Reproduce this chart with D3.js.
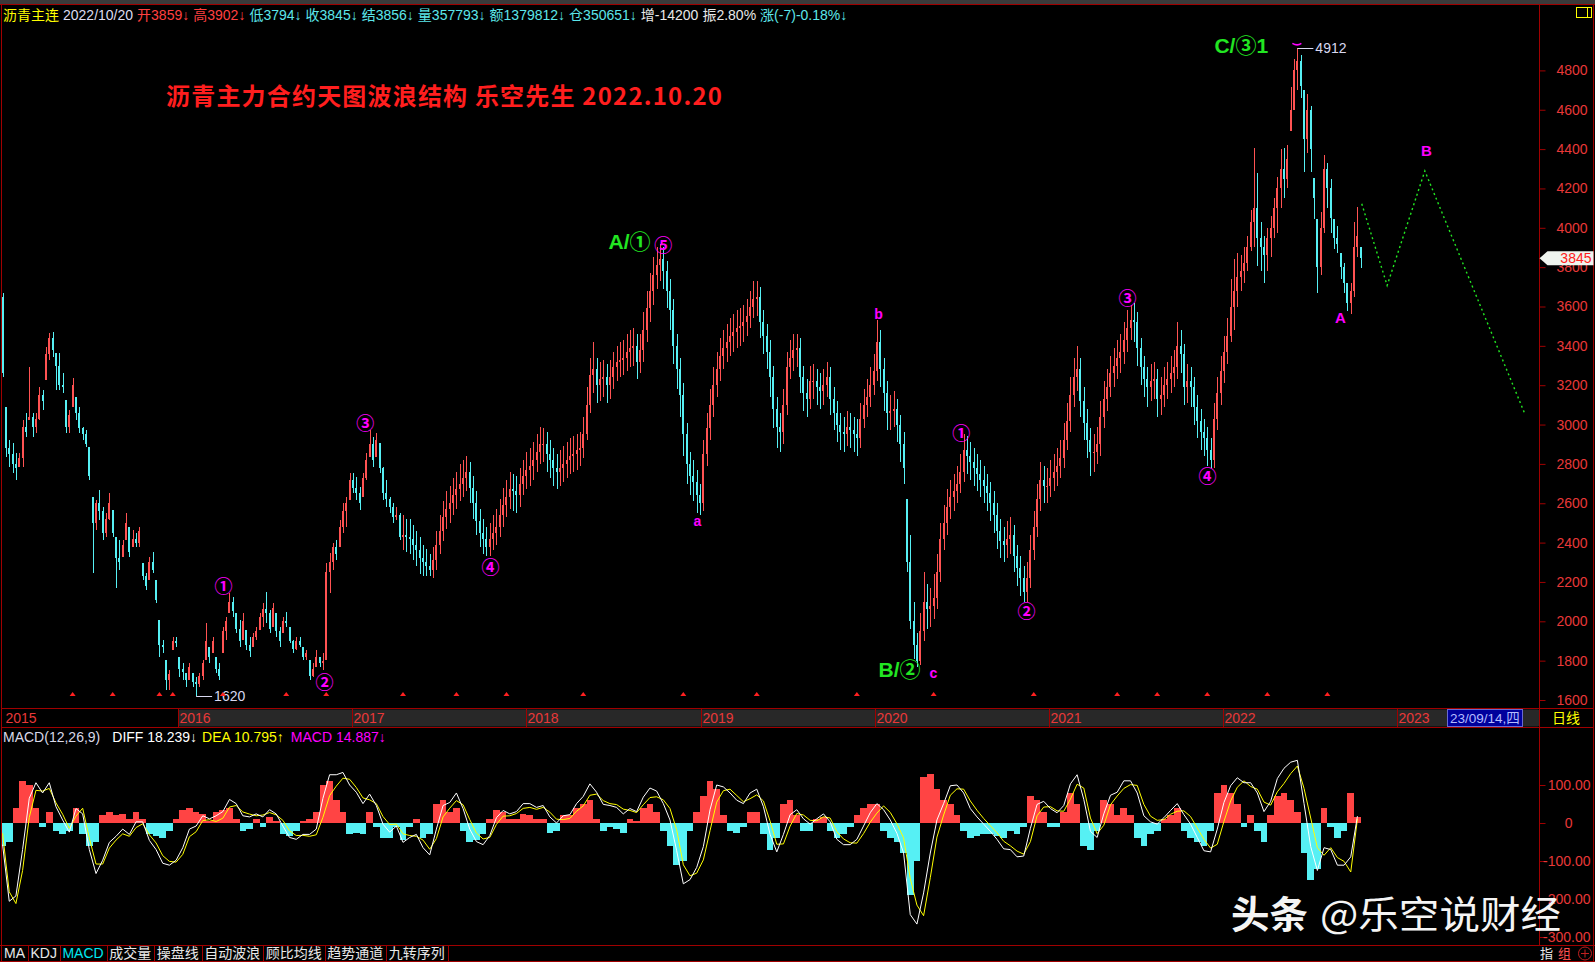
<!DOCTYPE html>
<html><head><meta charset="utf-8">
<script src="https://cdn.jsdelivr.net/npm/d3@7/dist/d3.min.js"></script>
<style>
html,body{margin:0;padding:0;background:#000;overflow:hidden}
svg{display:block}
text{font-family:"Liberation Sans",Arial,"Noto Sans CJK SC",sans-serif}
</style></head><body>
<svg id="chart" width="1595" height="962"></svg>
<script>
// ================= DATA (weekly samples) =================
const weekHigh = [
3667,3091,2922,2905,2854,2854,3023,3057,3294,3057,
3057,3193,3176,3396,3464,3472,3362,3362,3261,3125,
3074,3235,3142,3091,2990,2973,2888,2634,2617,2668,
2583,2549,2651,2566,2430,2413,2413,2549,2481,2464,
2447,2481,2295,2244,2329,2354,2210,2007,1905,1804,
1753,1922,1922,1821,1787,1736,1787,1736,1719,1736,
1804,1990,1871,1922,1821,1787,1973,2024,2142,2125,
2041,2007,2041,1956,1922,1939,1973,2041,2092,2151,
2058,2092,2041,1973,2024,2049,1973,1905,1922,1922,
1871,1855,1804,1787,1855,1821,1838,2295,2346,2397,
2413,2515,2600,2634,2752,2752,2735,2685,2752,2854,
2973,2939,2956,2905,2786,2719,2634,2600,2583,2549,
2540,2520,2520,2490,2460,2430,2390,2370,2340,2380,
2460,2540,2610,2660,2690,2730,2760,2800,2820,2840,
2810,2740,2660,2570,2520,2480,2500,2540,2570,2620,
2680,2720,2760,2750,2740,2780,2820,2860,2880,2910,
2950,2990,2980,2960,2920,2880,2850,2870,2890,2910,
2930,2940,2950,2960,3040,3190,3340,3420,3340,3320,
3330,3310,3330,3370,3400,3420,3430,3460,3480,3490,
3460,3460,3570,3680,3770,3850,3900,3920,3900,3830,
3740,3640,3460,3340,3210,3010,2860,2820,2770,2700,
2920,3060,3180,3290,3370,3440,3480,3510,3540,3560,
3580,3590,3610,3640,3680,3730,3730,3700,3580,3510,
3430,3300,3140,3060,3180,3370,3430,3460,3460,3440,
3300,3230,3300,3310,3280,3260,3280,3320,3290,3190,
3120,3060,3040,3070,3060,3040,3030,3110,3180,3230,
3290,3360,3530,3480,3340,3220,3150,3170,3130,3050,
2960,2620,2440,2100,1940,2040,2250,2190,2170,2240,
2340,2500,2590,2670,2720,2750,2790,2850,2950,2940,
2910,2880,2850,2820,2790,2750,2710,2660,2600,2520,
2480,2510,2530,2490,2390,2330,2280,2300,2440,2560,
2700,2810,2790,2780,2820,2850,2880,2920,3010,3110,
3240,3340,3400,3340,3190,3080,2980,2950,2990,3120,
3220,3280,3350,3390,3430,3460,3520,3580,3610,3620,
3570,3440,3350,3290,3310,3320,3280,3240,3290,3320,
3350,3380,3520,3480,3410,3310,3290,3240,3150,3080,
3030,2990,2930,3110,3240,3350,3450,3540,3740,3840,
3873,3860,3900,3960,4090,4405,4280,4027,3960,4000,
4060,4150,4260,4400,4405,4420,4714,4860,4912,4880,
4700,4680,4620,4251,4045,4080,4370,4330,4250,4045,
4010,3873,3820,3718,3718,4027,4105,3902];
const weekLow = [
3244,2837,2786,2752,2718,2786,2786,2939,3023,2939,
2956,3023,3074,3227,3328,3345,3176,3176,3159,2956,
2956,3091,3023,2956,2922,2888,2718,2244,2464,2515,
2413,2430,2515,2430,2168,2261,2329,2413,2329,2380,
2380,2380,2210,2159,2210,2244,2092,1821,1838,1651,
1651,1855,1871,1719,1702,1668,1702,1668,1620,1668,
1702,1804,1787,1838,1736,1702,1838,1905,2041,2024,
1939,1871,1905,1855,1821,1871,1905,1956,1973,1990,
1939,1973,1922,1871,1939,1973,1888,1838,1855,1871,
1804,1804,1702,1719,1770,1770,1753,1804,2142,2261,
2312,2380,2447,2481,2617,2651,2617,2566,2634,2718,
2837,2786,2837,2752,2617,2583,2549,2498,2515,2413,
2360,2350,2340,2310,2280,2240,2230,2230,2230,2220,
2260,2340,2410,2470,2500,2540,2570,2610,2630,2660,
2600,2520,2440,2380,2340,2330,2330,2360,2390,2430,
2480,2530,2570,2560,2550,2580,2640,2670,2690,2720,
2760,2800,2810,2760,2730,2690,2670,2690,2710,2730,
2750,2760,2770,2790,2830,2920,3060,3160,3110,3120,
3140,3110,3130,3180,3220,3240,3250,3270,3290,3300,
3230,3260,3320,3420,3520,3610,3690,3730,3690,3590,
3480,3310,3180,3040,2840,2700,2640,2610,2550,2540,
2560,2790,2920,3040,3140,3220,3280,3320,3350,3370,
3390,3400,3420,3450,3490,3540,3550,3440,3360,3280,
3140,2980,2880,2860,2900,3050,3230,3270,3290,3160,
3070,3040,3080,3130,3100,3080,3100,3140,3050,2970,
2910,2870,2860,2890,2880,2860,2840,2880,2980,3040,
3090,3150,3220,3190,3070,2970,2970,2990,2910,2810,
2700,2250,1960,1810,1770,1780,1900,1960,1970,2010,
2060,2200,2360,2440,2520,2560,2600,2650,2710,2750,
2720,2690,2660,2630,2600,2560,2510,2450,2370,2320,
2300,2320,2340,2250,2180,2130,2100,2100,2170,2310,
2430,2560,2600,2600,2630,2660,2690,2730,2780,2870,
2960,3090,3170,3040,2920,2830,2740,2760,2800,2840,
2980,3070,3140,3190,3230,3260,3310,3370,3430,3420,
3300,3200,3140,3090,3120,3130,3040,3050,3090,3130,
3160,3190,3230,3260,3100,3110,3090,3000,2930,2870,
2840,2790,2780,2780,2970,3100,3210,3310,3420,3480,
3600,3680,3720,3780,3880,3900,3806,3780,3720,3780,
3850,3950,3976,4100,4150,4200,4490,4600,4700,4662,
4285,4380,4285,4045,3667,3760,3976,4100,3976,3890,
3873,3740,3667,3577,3564,3650,3850,3794];
const weekClose = [
3260,2880,2850,2800,2780,2830,2990,2960,3040,2990,
3030,3150,3120,3360,3440,3380,3300,3200,3190,2990,
3050,3200,3060,2980,2950,2900,2740,2500,2600,2560,
2450,2520,2600,2450,2320,2300,2390,2500,2350,2420,
2400,2460,2230,2180,2300,2260,2110,1880,1870,1700,
1730,1900,1890,1760,1740,1700,1770,1690,1680,1720,
1790,1900,1820,1900,1760,1720,1950,2000,2100,2050,
1960,1900,2000,1880,1850,1920,1950,2020,2060,2040,
1960,2070,1950,1900,2000,1990,1900,1860,1900,1880,
1820,1840,1720,1760,1820,1790,1800,2250,2300,2380,
2340,2480,2560,2600,2720,2680,2650,2600,2730,2820,
2900,2820,2920,2780,2650,2620,2580,2530,2540,2430,
2440,2430,2420,2390,2360,2320,2300,2280,2260,2310,
2390,2460,2530,2570,2600,2640,2670,2700,2730,2760,
2680,2600,2510,2450,2420,2380,2420,2450,2480,2540,
2590,2630,2670,2660,2640,2700,2740,2770,2790,2820,
2860,2900,2900,2850,2820,2780,2760,2780,2800,2820,
2840,2850,2870,2880,2950,3100,3250,3280,3200,3230,
3240,3200,3240,3290,3320,3330,3340,3370,3390,3400,
3320,3380,3480,3590,3680,3760,3810,3840,3780,3680,
3580,3400,3280,3150,2950,2800,2740,2710,2640,2600,
2850,2980,3100,3200,3280,3350,3390,3420,3450,3470,
3490,3500,3520,3550,3600,3640,3650,3520,3450,3370,
3240,3080,2990,2960,3100,3290,3340,3380,3390,3240,
3160,3130,3220,3220,3190,3170,3200,3240,3130,3060,
3000,2960,2950,2990,2970,2950,2930,3030,3100,3140,
3200,3270,3420,3280,3160,3060,3070,3080,3000,2900,
2780,2300,2000,1880,1800,1950,2100,2060,2080,2120,
2250,2420,2500,2580,2630,2660,2700,2760,2870,2840,
2810,2780,2750,2720,2690,2650,2600,2540,2460,2410,
2390,2420,2440,2330,2270,2220,2150,2220,2360,2480,
2620,2720,2690,2690,2730,2760,2790,2830,2920,3020,
3150,3240,3280,3120,3010,2920,2860,2860,2900,3040,
3130,3190,3260,3300,3340,3370,3430,3490,3530,3520,
3390,3290,3230,3190,3220,3230,3130,3150,3200,3230,
3260,3290,3400,3360,3190,3220,3190,3090,3020,2960,
2930,2870,2820,3030,3160,3270,3370,3450,3600,3680,
3750,3780,3820,3900,4030,4100,3950,3900,3860,3950,
4000,4100,4200,4300,4250,4350,4600,4800,4850,4720,
4450,4600,4400,4150,3800,4000,4300,4200,4050,3950,
3920,3800,3720,3620,3680,3900,3960,3845];
const firstOpen = 3650;

const priceTicks = [1600,1800,2000,2200,2400,2600,2800,3000,3200,3400,3600,3800,4000,4200,4400,4600,4800];
const macdTicks = [100,0,-100,-200,-300];

// MACD indicator, one reading every two weeks
const DIFF = [
-57,-206,-192,-70,65,106,79,106,43,8,
-24,38,24,-70,-133,-98,-51,-35,-16,-30,
3,3,-46,-70,-106,-111,-98,-65,-16,-8,
19,11,19,30,62,51,19,16,24,16,
35,24,-8,-38,-43,-30,-30,-16,65,127,
127,133,100,81,51,76,46,-3,-24,-8,
-51,-38,-30,-65,-84,-16,46,54,79,38,
-16,-49,-57,-33,14,33,24,30,51,51,
41,46,16,0,19,22,51,70,103,81,
49,46,41,24,38,30,68,92,84,51,
8,-73,-160,-149,-117,-62,35,100,95,79,
60,51,79,89,43,-30,-76,-30,22,35,
11,-3,11,24,3,-43,-57,-57,-43,-8,
27,51,35,8,-27,-79,-241,-266,-184,-79,
8,51,98,100,79,38,16,-3,-22,-43,
-68,-70,-89,-87,-14,49,57,38,27,46,
103,127,62,-22,-38,24,73,81,111,111,
79,19,3,-3,14,33,51,22,-3,-38,
-73,-76,-16,54,98,119,106,106,79,30,
57,117,144,160,165,51,-62,-125,-65,-70,
-111,-111,-89,18];
const MACD = [
-60,-50,40,110,100,40,-10,30,-20,-30,
-20,40,-30,-60,-50,20,30,20,25,10,
30,10,-30,-35,-40,-20,10,35,40,30,
25,5,30,35,40,10,-20,-15,10,-10,
15,5,-30,-35,-20,5,10,30,100,110,
60,30,-30,-25,-30,30,-10,-40,-40,-10,
-45,-10,10,-40,-30,50,60,30,40,-20,
-50,-45,-30,10,35,30,10,10,25,20,
10,10,-25,-20,20,20,40,50,60,10,
-20,-10,-15,-25,10,5,40,50,30,-20,
-60,-110,-100,-20,30,70,110,90,20,-20,
-25,-10,30,30,-30,-70,-40,50,60,20,
-20,-20,10,15,-20,-40,-30,-10,20,40,
50,50,-20,-40,-50,-80,-190,-100,120,130,
90,60,50,20,-20,-40,-35,-30,-30,-35,
-40,-20,-30,-10,70,60,30,-10,-10,30,
80,50,-60,-70,-20,60,50,20,40,20,
-40,-60,-30,-20,10,20,40,-20,-40,-50,
-60,-20,80,100,80,50,-10,20,-20,-50,
20,70,80,60,30,-80,-150,-120,40,-10,
-40,-20,80,15];

// red event triangles along the bottom (week numbers)
const markerWeeks = [21,33,47,51,66,85,97,120,136,151,174,204,226,256,279,309,334,346,361,379,397];

// wave labels
const waveText  = ['①','②','③','④','A/①','⑤','a','b','B/②','c','①','②','③','④','C/③1','A','B'];
const waveWeek  = [66.2,96.5,108.7,146.2,187.9,198.0,208.2,262.5,268.8,278.9,287.3,306.8,337.1,361.1,371.2,400.9,426.7];
const wavePrice = [2184,1697,3013,2281,3928,3918,2510,3562,1753,1737,2962,2057,3648,2744,4929,3542,4395];
const waveKind  = ['c','c','c','c','g','c','s','s','g','s','c','c','c','c','g','L','L'];

// projected path (green dotted)
const projWeeks  = [407.3,414.9,426.2,456.2];
const projPrices = [4122,3707,4289,3053];

const headerText  = ['沥青主连','2022/10/20','开3859↓','高3902↓','低3794↓','收3845↓','结3856↓','量357793↓','额1379812↓','仓350651↓','增-14200','振2.80%','涨(-7)-0.18%↓'];
const headerColor = ['#ffff00','#dcdcf0','#ff4040','#ff4040','#5ce6ea','#5ce6ea','#5ce6ea','#5ce6ea','#5ce6ea','#5ce6ea','#e8e8e8','#e8e8e8','#5ce6ea'];
const macdHeadText  = ['MACD(12,26,9)','DIFF 18.239↓','DEA 10.795↑','MACD 14.887↓'];
const macdHeadColor = ['#d8d8e8','#ffffff','#ffff00','#ff00ff'];
const toolText  = ['MA','KDJ','MACD','成交量','操盘线','自动波浪','顾比均线','趋势通道','九转序列'];
const toolColor = ['#e8e8e8','#e8e8e8','#00e8f0','#e8e8e8','#e8e8e8','#e8e8e8','#e8e8e8','#e8e8e8','#e8e8e8'];
const titleText = '沥青主力合约天图波浪结构 乐空先生 2022.10.20';

if (weekHigh.length!==weekClose.length || weekLow.length!==weekClose.length) throw new Error('week lengths '+weekHigh.length+' '+weekLow.length+' '+weekClose.length);
if (DIFF.length!==MACD.length) throw new Error('macd lengths '+DIFF.length+' '+MACD.length);

// ================= LAYOUT =================
const W=1595, H=962;
const RL='#a00000', AX='#e83838', UP='#ff5252', DN='#56f0f4';
const XL=1.5, XR=1539.5, XE=1593.5;
const TOP=4.5, PBOT=708.5, TB=727.5, MBOT=945.5, BOT=961.5;

const svg=d3.select('#chart');
svg.append('rect').attr('width',W).attr('height',H).attr('fill','#000');
svg.append('rect').attr('width',W).attr('height',4).attr('fill','#3a3a3a');

const defs=svg.append('defs');
defs.append('clipPath').attr('id','clipP').append('rect').attr('x',XL+0.5).attr('y',TOP+0.5).attr('width',XR-XL-1).attr('height',PBOT-TOP-1);
defs.append('clipPath').attr('id','clipM').append('rect').attr('x',XL+0.5).attr('y',TB+0.5).attr('width',XR-XL-1).attr('height',MBOT-TB-1);

// scales
const startDate = new Date(Date.UTC(2014,11,29));
const weekDate = w => new Date(startDate.getTime() + w*7*864e5);
const x = d3.scaleUtc().domain([new Date(Date.UTC(2015,0,1)), new Date(Date.UTC(2023,0,1))]).range([4,1397]);
const xw = w => x(weekDate(w));
const y = d3.scaleLinear().domain([1600,4800]).range([700,70.4]);
const ym = d3.scaleLinear().domain([-300,100]).range([937,785]);

// ---------- candles ----------
const bars = weekClose.map((c,i)=>{
  const h=weekHigh[i], l=weekLow[i];
  const o = i===0 ? firstOpen : Math.max(l, Math.min(h, weekClose[i-1]));
  return {i,h,l,c,o};
});
const gC = svg.append('g').attr('clip-path','url(#clipP)').attr('shape-rendering','crispEdges');
gC.selectAll('rect.wk').data(bars).join('rect').attr('class','wk')
  .attr('x',d=>Math.round(xw(d.i))).attr('width',1)
  .attr('y',d=>y(d.h)).attr('height',d=>Math.max(1,y(d.l)-y(d.h)))
  .attr('fill',d=>d.c>=d.o?UP:DN);
gC.selectAll('rect.bd').data(bars).join('rect').attr('class','bd')
  .attr('x',d=>Math.round(xw(d.i))-1).attr('width',2)
  .attr('y',d=>y(Math.max(d.o,d.c))).attr('height',d=>Math.max(1,Math.abs(y(d.o)-y(d.c))))
  .attr('fill',d=>d.c>=d.o?UP:DN);

// low / high markers
const iLo = d3.minIndex(weekLow), iHi = d3.maxIndex(weekHigh);
const gM = svg.append('g');
gM.append('line').attr('x1',xw(iLo)).attr('x2',xw(iLo)+16).attr('y1',Math.round(y(weekLow[iLo]))+0.5).attr('y2',Math.round(y(weekLow[iLo]))+0.5).attr('stroke','#d8d8f0');
gM.append('text').attr('x',xw(iLo)+18).attr('y',y(weekLow[iLo])+5).attr('fill','#d8d8f0').attr('font-size',14).text(weekLow[iLo]);
gM.append('line').attr('x1',xw(iHi)).attr('x2',xw(iHi)+16).attr('y1',Math.round(y(weekHigh[iHi]))+0.5).attr('y2',Math.round(y(weekHigh[iHi]))+0.5).attr('stroke','#d8d8f0');
gM.append('text').attr('x',xw(iHi)+18).attr('y',y(weekHigh[iHi])+5).attr('fill','#d8d8f0').attr('font-size',14).text(weekHigh[iHi]);
gM.append('path').attr('d',`M${xw(iHi)-5},${y(weekHigh[iHi])-5} Q${xw(iHi)},${y(weekHigh[iHi])-2} ${xw(iHi)+4},${y(weekHigh[iHi])-5}`)
  .attr('stroke','#ff00ff').attr('stroke-width',1.5).attr('fill','none');

// event triangles
svg.append('g').selectAll('path').data(markerWeeks).join('path')
  .attr('d',w=>{const cx=xw(w), cy=694; return `M${cx-3},${cy+2}L${cx+3},${cy+2}L${cx},${cy-2}Z`;})
  .attr('fill','#ff2020');

// projected path
svg.append('path')
  .attr('d', d3.line().x((w)=>xw(w)).y((w,i)=>y(projPrices[i]))(projWeeks))
  .attr('fill','none').attr('stroke','#22e622').attr('stroke-width',1.4).attr('stroke-dasharray','2,3');

// wave labels
const kindStyle = {
  c:{fill:'#ff00ff',size:18,weight:'bold',family:'"Noto Sans CJK SC",sans-serif'},
  g:{fill:'#22e622',size:21,weight:'bold',family:'"Liberation Sans","Noto Sans CJK SC",sans-serif'},
  s:{fill:'#ff00ff',size:14,weight:'bold',family:'"Liberation Sans",sans-serif'},
  L:{fill:'#ff00ff',size:15,weight:'bold',family:'"Liberation Sans",sans-serif'}
};
svg.append('g').selectAll('text').data(waveText).join('text')
  .attr('x',(t,i)=>xw(waveWeek[i])).attr('y',(t,i)=>y(wavePrice[i]))
  .attr('text-anchor','middle').attr('dominant-baseline','central')
  .attr('fill',(t,i)=>kindStyle[waveKind[i]].fill)
  .attr('font-size',(t,i)=>kindStyle[waveKind[i]].size)
  .attr('font-weight',(t,i)=>kindStyle[waveKind[i]].weight)
  .style('font-family',(t,i)=>kindStyle[waveKind[i]].family)
  .text(t=>t);

// title
svg.append('text').attr('x',166).attr('y',105).attr('fill','#ff1e1e').attr('font-size',24).attr('font-weight','bold')
  .style('font-family','"Noto Sans CJK SC",sans-serif')
  .attr('textLength',556).attr('lengthAdjust','spacing').text(titleText);

// ---------- frame ----------
function hl(yv,x1,x2){svg.append('line').attr('x1',x1).attr('x2',x2).attr('y1',yv).attr('y2',yv).attr('stroke',RL);}
function vl(xv,y1,y2){svg.append('line').attr('x1',xv).attr('x2',xv).attr('y1',y1).attr('y2',y2).attr('stroke',RL);}

// time bar
svg.append('rect').attr('x',x(new Date(Date.UTC(2016,0,1)))).attr('y',PBOT+1).attr('width',XR-x(new Date(Date.UTC(2016,0,1)))).attr('height',TB-PBOT-2).attr('fill','#282828').attr('rx',2);
hl(TOP,0,W); hl(PBOT,XL,XE); hl(TB,XL,XE); hl(MBOT,0,W); hl(BOT,0,W);
vl(XL,TOP,BOT); vl(XR,TOP,MBOT); vl(XE,TOP,BOT);

const years = x.ticks(d3.utcYear.every(1));
const gT = svg.append('g');
years.forEach(dt=>{
  const xx=Math.round(x(dt))+0.5;
  if (dt.getUTCFullYear()>2015) gT.append('line').attr('x1',xx).attr('x2',xx).attr('y1',PBOT).attr('y2',TB).attr('stroke',RL);
  gT.append('text').attr('x',xx+1).attr('y',723).attr('fill',AX).attr('font-size',14).text(d3.utcFormat('%Y')(dt));
});
// date box
svg.append('rect').attr('x',1447.5).attr('y',709.5).attr('width',75).attr('height',17).attr('fill','#00009c').attr('stroke','#6a6ad0');
svg.append('text').attr('x',1450).attr('y',723).attr('fill','#b4bcff').attr('font-size',13.5).text('23/09/14,四');
svg.append('text').attr('x',1566).attr('y',723).attr('text-anchor','middle').attr('fill','#ffff00').attr('font-size',14).style('font-family','"Noto Sans CJK SC",sans-serif').text('日线');

// price axis
const ay = svg.append('g').attr('transform',`translate(${XR},0)`)
  .call(d3.axisRight(y).tickValues(priceTicks).tickSize(6).tickPadding(11).tickFormat(d3.format('d')));
ay.select('.domain').remove();
ay.selectAll('line').attr('stroke',RL);
ay.selectAll('text').attr('fill',AX).attr('font-size',14).style('font-family','"Liberation Sans",Arial,sans-serif');

// last price tag
const lastC = weekClose[weekClose.length-1], ly = y(lastC);
svg.append('path').attr('d',`M${XR},${ly} L${XR+8},${ly-7} L${XE},${ly-7} L${XE},${ly+7} L${XR+8},${ly+7} Z`).attr('fill','#eef4ee');
svg.append('text').attr('x',XE-2).attr('y',ly+5).attr('text-anchor','end').attr('fill','#ff2020').attr('font-size',14).text(lastC);

// yellow icon top right
svg.append('rect').attr('x',1576.5).attr('y',7.5).attr('width',15).attr('height',10).attr('fill','none').attr('stroke','#ffff00');
svg.append('line').attr('x1',1587.5).attr('x2',1587.5).attr('y1',7.5).attr('y2',17.5).attr('stroke','#ffff00');

// header
let hx=3;
const gH=svg.append('g');
headerText.forEach((t,i)=>{
  const tx=gH.append('text').attr('x',hx).attr('y',20).attr('fill',headerColor[i]).attr('font-size',14).text(t);
  hx += tx.node().getComputedTextLength()+4;
});

// ---------- MACD ----------
const gMa = svg.append('g').attr('clip-path','url(#clipM)');
const DEA = DIFF.map((d,k)=>d - MACD[k]/2);
const kx = k => xw(2*k);
gMa.append('g').attr('shape-rendering','crispEdges').selectAll('rect').data(MACD).join('rect')
  .attr('x',(v,k)=>Math.round(kx(k)-3.34)).attr('width',(v,k)=>Math.round(kx(k)+3.34)-Math.round(kx(k)-3.34))
  .attr('y',v=>v>=0?ym(v):ym(0)).attr('height',v=>Math.max(0.5,Math.abs(ym(v)-ym(0))))
  .attr('fill',v=>v>=0?'#ff4444':'#56f0f4');
gMa.append('path').attr('d',d3.line().x((v,k)=>kx(k)).y(v=>ym(v))(DEA)).attr('fill','none').attr('stroke','#ffff00').attr('stroke-width',1);
gMa.append('path').attr('d',d3.line().x((v,k)=>kx(k)).y(v=>ym(v))(DIFF)).attr('fill','none').attr('stroke','#ffffff').attr('stroke-width',1);

const am = svg.append('g').attr('transform',`translate(${XR},0)`)
  .call(d3.axisRight(ym).tickValues(macdTicks).tickSize(6).tickFormat(d=>d===0?'0':d.toFixed(2)));
am.select('.domain').remove();
am.selectAll('line').attr('stroke',RL);
am.selectAll('text').attr('fill',AX).attr('font-size',14).attr('text-anchor','end').attr('x',d=>d===0?33:51);

const macdGap = [12,5,7];
let mx=3;
macdHeadText.forEach((t,i)=>{
  const tx=svg.append('text').attr('x',mx).attr('y',742).attr('fill',macdHeadColor[i]).attr('font-size',14).text(t);
  mx += tx.node().getComputedTextLength()+(macdGap[i]||0);
});

// ---------- toolbar ----------
let bx=XL;
toolText.forEach((t,i)=>{
  const tx=svg.append('text').attr('x',bx+2.5).attr('y',958).attr('fill',toolColor[i]).attr('font-size',14).text(t);
  bx += tx.node().getComputedTextLength()+5.5;
  vl(Math.round(bx)+0.5,MBOT,BOT);
});
svg.append('text').attr('x',1540).attr('y',958).attr('fill','#e8e8e8').attr('font-size',13).text('指');
svg.append('text').attr('x',1558).attr('y',958).attr('fill','#ff5050').attr('font-size',13).text('组');
svg.append('circle').attr('cx',1585).attr('cy',953.5).attr('r',6.5).attr('fill','none').attr('stroke','#c02020');
svg.append('path').attr('d','M1581,953.5H1589M1585,949.5V957.5').attr('stroke','#c02020');

// watermark
svg.append('text').attr('x',1231).attr('y',928).attr('fill','#f4f4f4').attr('font-size',38).attr('font-weight','bold')
  .style('font-family','"Noto Sans CJK SC",sans-serif').attr('textLength',77).attr('lengthAdjust','spacingAndGlyphs').text('头条');
svg.append('text').attr('x',1320).attr('y',928).attr('fill','#f4f4f4').attr('font-size',38)
  .style('font-family','"Noto Sans CJK SC",sans-serif').attr('textLength',241).attr('lengthAdjust','spacingAndGlyphs').text('@乐空说财经');
</script>
</body></html>
